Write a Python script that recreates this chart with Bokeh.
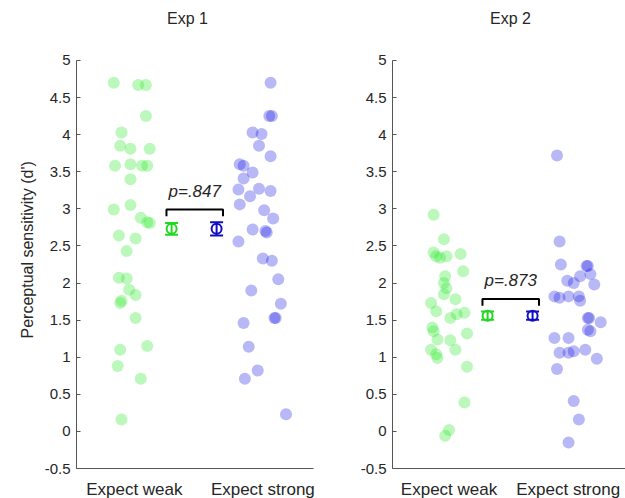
from bokeh.plotting import figure
from bokeh.models import (FixedTicker, Whisker, TeeHead, ColumnDataSource, Title,
                          CustomJSTickFormatter, Range1d)
from bokeh.layouts import row
from bokeh.embed import file_html
from bokeh.resources import INLINE
from bokeh.core.properties import value

# ---------------- data ----------------
conditions = ["Expect weak", "Expect strong"]
titles = ["Exp 1", "Exp 2"]
y_ticks = [-0.5, 0, 0.5, 1, 1.5, 2, 2.5, 3, 3.5, 4, 4.5, 5]

exp1_weak_dprime = [4.70, 4.67, 4.67, 4.25, 4.03, 3.85, 3.81, 3.81, 3.58, 3.60, 3.58, 3.58,
                    3.40, 2.99, 3.05, 2.88, 2.82, 2.81, 2.64, 2.60, 2.43, 2.07, 2.06, 1.91,
                    1.84, 1.73, 1.76, 1.53, 1.10, 1.15, 0.88, 0.71, 0.16]
exp1_weak_jitter = [-0.16, 0.03, 0.09, 0.09, -0.10, -0.11, -0.03, 0.12, -0.15, -0.03, 0.06, 0.10,
                    -0.03, -0.16, -0.03, 0.05, 0.10, 0.12, -0.12, 0.01, -0.06, -0.12, -0.06, -0.04,
                    0.01, -0.11, -0.10, 0.01, -0.11, 0.10, -0.13, 0.05, -0.10]

exp1_strong_dprime = [4.70, 4.25, 4.25, 4.03, 4.01, 3.85, 3.71, 3.60, 3.58, 3.49, 3.41, 3.26,
                      3.27, 3.24, 3.17, 3.06, 2.98, 2.87, 2.72, 2.70, 2.68, 2.56, 2.33, 2.30,
                      2.05, 1.90, 1.72, 1.53, 1.53, 1.46, 1.14, 0.82, 0.71, 0.23]
exp1_strong_jitter = [0.06, 0.05, 0.07, -0.08, -0.01, -0.03, 0.06, -0.18, -0.15, -0.08, -0.15, -0.19,
                      -0.03, 0.06, -0.10, -0.18, 0.01, 0.08, -0.08, 0.02, 0.03, -0.19, 0.00, 0.07,
                      0.12, -0.09, 0.14, 0.09, 0.10, -0.15, -0.11, -0.04, -0.14, 0.18]

exp2_weak_dprime = [2.92, 2.59, 2.41, 2.36, 2.34, 2.36, 2.39, 2.09, 2.16, 2.00, 1.93, 1.85,
                    1.73, 1.78, 1.62, 1.53, 1.58, 1.60, 1.40, 1.35, 1.24, 1.23, 1.32, 1.10,
                    1.04, 0.99, 1.10, 0.87, 0.39, -0.06, 0.02]
exp2_weak_jitter = [-0.13, -0.05, -0.13, -0.11, -0.08, -0.03, 0.08, -0.04, 0.10, -0.05, -0.03, -0.05,
                    -0.15, 0.04, -0.11, 0.00, 0.05, 0.11, -0.14, -0.13, -0.10, 0.00, 0.13, -0.15,
                    -0.11, -0.10, 0.04, 0.13, 0.11, -0.04, -0.01]

exp2_strong_dprime = [3.72, 2.56, 2.25, 2.23, 2.23, 2.12, 2.09, 2.03, 2.00, 1.98, 1.82, 1.80,
                      1.82, 1.82, 1.76, 1.53, 1.53, 1.47, 1.37, 1.35, 1.26, 1.26, 1.06, 1.06,
                      1.08, 1.10, 0.98, 0.84, 0.41, 0.16, -0.15]
exp2_strong_jitter = [-0.17, -0.15, -0.14, 0.06, 0.07, 0.09, 0.01, -0.09, -0.04, 0.12, -0.19, -0.15,
                      -0.08, 0.00, 0.01, 0.07, 0.08, 0.17, 0.07, 0.09, -0.19, -0.08, -0.15, -0.08,
                      -0.04, 0.05, 0.14, -0.17, -0.04, 0.00, -0.08]

exp1_means = [2.73, 2.73]
exp1_sems = [0.08, 0.09]
exp2_means = [1.56, 1.56]
exp2_sems = [0.055, 0.055]
p_labels = ["p=.847", "p=.873"]

# ---------------- styling ----------------
FONT = "Liberation Sans"
TXT = "#262626"
AX = "#555555"
GREEN_PT, BLUE_PT = "#20e820", "#1414e6"
GREEN_EB, BLUE_EB = "#20d820", "#1010c0"
Y_TOP = 5.808   # extra room above 5 for the panel titles (frame reaches top of figure)


def make_panel(title, weak, weak_j, strong, strong_j, means, sems, plabel,
               first, frame_w, x_end, tick_pos, title_x):
    p = figure(frame_width=frame_w, frame_height=468,
               x_range=Range1d(0.55, x_end), y_range=Range1d(-0.5, Y_TOP),
               output_backend="svg", toolbar_location=None,
               min_border_left=76 if first else 52,
               min_border_right=27 if first else 0,
               min_border_top=0, min_border_bottom=30)
    p.outline_line_color = None
    p.xgrid.grid_line_color = None
    p.ygrid.grid_line_color = None
    p.background_fill_color = "white"
    p.border_fill_color = "white"

    # panel title
    p.text(x=[title_x], y=[5.566], text=[title], text_font=value(FONT),
           text_font_size="16px", text_color=TXT,
           text_align="center", text_baseline="middle")

    # y axis
    ya = p.yaxis[0]
    ya.bounds = (-0.5, 5)
    ya.ticker = FixedTicker(ticks=y_ticks)
    ya.formatter = CustomJSTickFormatter(code="return String(tick)")
    ya.major_tick_in = 4
    ya.major_tick_out = 0
    ya.minor_tick_line_color = None
    ya.axis_line_color = AX
    ya.major_tick_line_color = AX
    ya.major_label_text_font = FONT
    ya.major_label_text_font_size = "15px"
    ya.major_label_text_color = TXT
    ya.major_label_standoff = 6

    # x axis
    xa = p.xaxis[0]
    xa.ticker = FixedTicker(ticks=tick_pos)
    xa.formatter = CustomJSTickFormatter(
        code="return tick < 1.5 ? %r : %r" % (conditions[0], conditions[1]))
    xa.major_tick_line_color = None
    xa.minor_tick_line_color = None
    xa.axis_line_color = AX
    xa.major_label_text_font = FONT
    xa.major_label_text_font_size = "17px"
    xa.major_label_text_color = TXT
    xa.major_label_standoff = 5

    if first:
        ylab = Title(text="Perceptual sensitivity (d')", align="left", offset=130,
                     text_font=FONT, text_font_size="16px", text_font_style="normal",
                     text_color=TXT, standoff=12)
        p.add_layout(ylab, "left")

    # individual subjects
    p.scatter(x=[1 + j for j in weak_j], y=weak, size=12, marker="circle",
              fill_color=GREEN_PT, fill_alpha=0.3, line_color=None)
    p.scatter(x=[2 + j for j in strong_j], y=strong, size=12, marker="circle",
              fill_color=BLUE_PT, fill_alpha=0.3, line_color=None)

    # means with error bars
    mx = [1.29, 1.64]
    cols = [GREEN_EB, BLUE_EB]
    for i in range(2):
        src = ColumnDataSource(dict(x=[mx[i]], lo=[means[i] - sems[i]], hi=[means[i] + sems[i]]))
        w = Whisker(base="x", lower="lo", upper="hi", source=src,
                    line_color=cols[i], line_width=2,
                    lower_head=TeeHead(size=13, line_color=cols[i], line_width=2),
                    upper_head=TeeHead(size=13, line_color=cols[i], line_width=2))
        p.add_layout(w)
        p.scatter(x=[mx[i]], y=[means[i]], marker="circle", size=10,
                  fill_color=None, line_color=cols[i], line_width=2)

    # significance bracket
    top = max(m + s for m, s in zip(means, sems)) + 0.17
    p.line(x=[1.25, 1.25, 1.69, 1.69], y=[top - 0.09, top, top, top - 0.09],
           line_color="black", line_width=2)
    p.text(x=[1.47], y=[top + 0.25], text=[plabel], text_font=value(FONT),
           text_font_size="17px", text_font_style="italic", text_color=TXT,
           text_align="center", text_baseline="middle")
    return p


p1 = make_panel(titles[0], exp1_weak_dprime, exp1_weak_jitter, exp1_strong_dprime,
                exp1_strong_jitter, exp1_means, exp1_sems, p_labels[0],
                True, 237, 2.394, [1, 2], 1.414)
p2 = make_panel(titles[1], exp2_weak_dprime, exp2_weak_jitter, exp2_strong_dprime,
                exp2_strong_jitter, exp2_means, exp2_sems, p_labels[1],
                False, 233, 2.363, [0.99, 1.917], 1.468)

layout = row(p1, p2)
open("out.html", "w").write(file_html(layout, INLINE))
